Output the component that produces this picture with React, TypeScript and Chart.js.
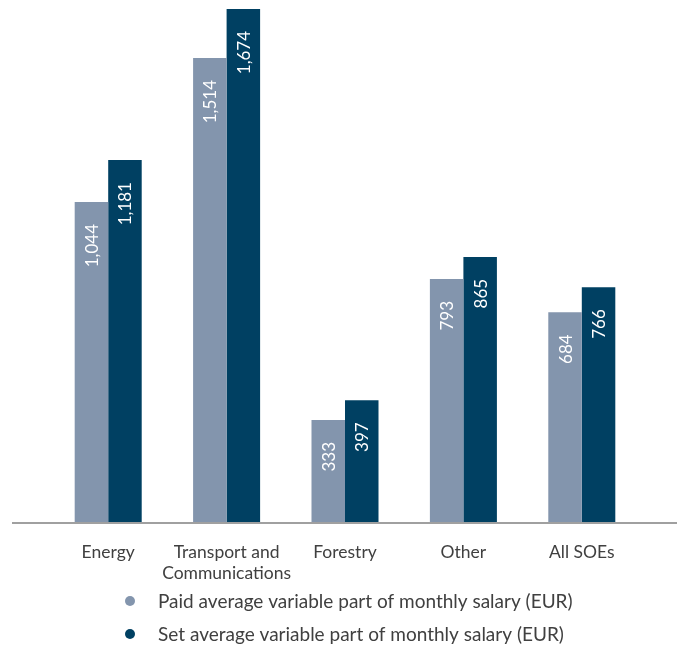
import React, { useEffect, useRef } from "react";
import { Chart, registerables } from "chart.js";

Chart.register(...registerables);

const categories: (string | string[])[] = [
  "Energy",
  ["Transport and", "Communications"],
  "Forestry",
  "Other",
  "All SOEs",
];
const paidValues = [1044, 1514, 333, 793, 684];
const setValues = [1181, 1674, 397, 865, 766];
const paidLabel = "Paid average variable part of monthly salary (EUR)";
const setLabel = "Set average variable part of monthly salary (EUR)";
const paidColor = "#8395AD";
const setColor = "#004062";
const textColor = "#404040";
const FONT = "Lato";

const fmt = (v: number) => v.toLocaleString("en-US");

const valueLabelsPlugin = {
  id: "valueLabels",
  afterDatasetsDraw(chart: any) {
    const ctx = chart.ctx;
    ctx.save();
    ctx.font = `17px ${FONT}`;
    ctx.fillStyle = "#ffffff";
    ctx.textAlign = "right";
    ctx.textBaseline = "middle";
    chart.data.datasets.forEach((ds: any, di: number) => {
      const meta = chart.getDatasetMeta(di);
      meta.data.forEach((bar: any, i: number) => {
        ctx.save();
        ctx.translate(bar.x, bar.y + 22);
        ctx.rotate(-Math.PI / 2);
        ctx.fillText(fmt(ds.data[i]), 0, 1);
        ctx.restore();
      });
    });
    ctx.restore();
  },
};

const baselinePlugin = {
  id: "baseline",
  afterDatasetsDraw(chart: any) {
    const ctx = chart.ctx;
    const y = chart.scales.y.getPixelForValue(0);
    ctx.save();
    ctx.strokeStyle = "#A0A0A0";
    ctx.lineWidth = 2;
    ctx.beginPath();
    ctx.moveTo(4, y + 1);
    ctx.lineTo(chart.width, y + 1);
    ctx.stroke();
    ctx.restore();
  },
};

const legendPlugin = {
  id: "customLegend",
  afterDraw(chart: any) {
    const ctx = chart.ctx;
    ctx.save();
    ctx.font = `19px ${FONT}`;
    ctx.textAlign = "left";
    ctx.textBaseline = "middle";
    const rows = [593, 626];
    chart.data.datasets.forEach((ds: any, i: number) => {
      const y = rows[i];
      ctx.fillStyle = ds.backgroundColor;
      ctx.beginPath();
      ctx.arc(122, y, 5, 0, Math.PI * 2);
      ctx.fill();
      ctx.fillStyle = textColor;
      ctx.fillText(ds.label, 150, y + 1);
    });
    ctx.restore();
  },
};

export default function App() {
  const ref = useRef<HTMLCanvasElement | null>(null);
  useEffect(() => {
    if (!ref.current) return;
    const chart = new Chart(ref.current, {
      type: "bar",
      data: {
        labels: categories,
        datasets: [
          {
            label: paidLabel,
            data: paidValues,
            backgroundColor: paidColor,
            barPercentage: 1,
            categoryPercentage: 0.566,
          },
          {
            label: setLabel,
            data: setValues,
            backgroundColor: setColor,
            barPercentage: 1,
            categoryPercentage: 0.566,
          },
        ],
      },
      options: {
        responsive: false,
        animation: false,
        layout: { padding: { left: 41, right: 36, top: 0, bottom: 0 } },
        plugins: {
          legend: { display: false },
          tooltip: { enabled: false },
        },
        scales: {
          x: {
            grid: { display: false, drawTicks: false },
            border: { display: false },
            ticks: {
              color: textColor,
              font: { family: FONT, size: 17.5, lineHeight: 1.25 },
              padding: 19,
              maxRotation: 0,
              autoSkip: false,
            },
            afterFit: (s: any) => {
              s.height = 126;
            },
          },
          y: {
            display: false,
            min: 0,
            max: 1677,
          },
        },
      },
      plugins: [baselinePlugin, valueLabelsPlugin, legendPlugin],
    });
    return () => chart.destroy();
  }, []);
  return <canvas ref={ref} width={669} height={640} style={{ display: "block" }} />;
}
